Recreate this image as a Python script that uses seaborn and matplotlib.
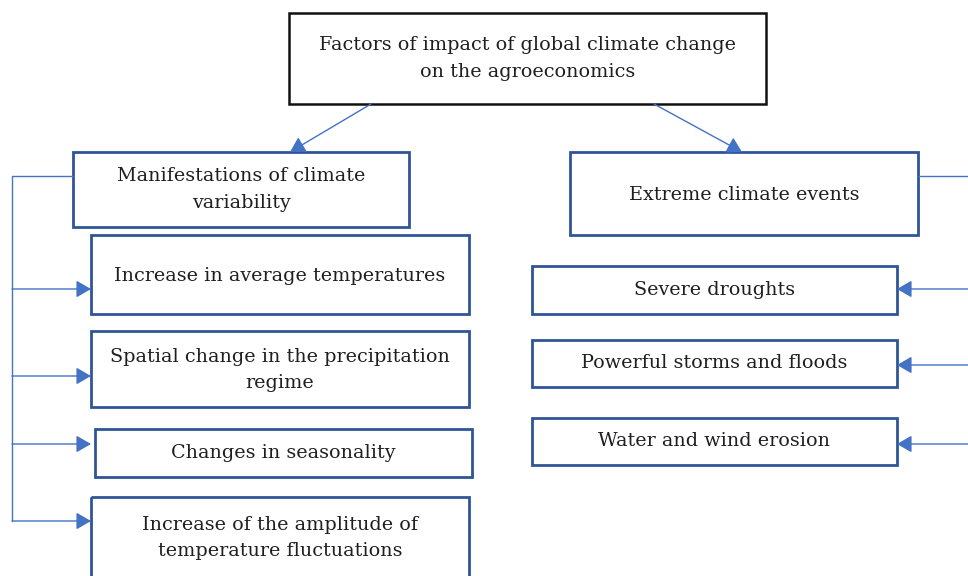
import matplotlib.pyplot as plt
import seaborn as sns
from matplotlib.patches import Rectangle

# labels
top_label = "Factors of impact of global climate change\non the agroeconomics"
left_head = "Manifestations of climate\nvariability"
right_head = "Extreme climate events"
left_items = [
    "Increase in average temperatures",
    "Spatial change in the precipitation\nregime",
    "Changes in seasonality",
    "Increase of the amplitude of\ntemperature fluctuations",
]
right_items = [
    "Severe droughts",
    "Powerful storms and floods",
    "Water and wind erosion",
]

# layout in pixels (x0, y0, x1, y1), origin top-left
TOP_BOX = (289, 13, 766, 104)
LEFT_HEAD_BOX = (73, 152, 409, 227)
RIGHT_HEAD_BOX = (570, 152, 918, 235)
LEFT_BOXES = [(91, 235, 469, 314), (91, 331, 469, 407), (95, 429, 472, 477), (91, 497, 469, 590)]
LEFT_ARROW_Y = [289, 376, 444, 521]
LEFT_TEXT_Y = [276, 370, 453, 538]
RIGHT_BOXES = [(532, 266, 897, 314), (532, 340, 897, 387), (532, 418, 897, 465)]
RIGHT_ARROW_Y = [289, 365, 444]

EDGE = "#2F5597"
LINE = "#4472C4"
TXT = "#1f1f1f"
FS = 13.8

sns.set_theme(style="white")
plt.rcParams["font.family"] = ["DejaVu Serif"]

fig = plt.figure(figsize=(9.68, 5.76), dpi=100)
ax = fig.add_axes([0, 0, 1, 1])
ax.set_xlim(0, 968)
ax.set_ylim(576, 0)
ax.axis("off")


def box(rect, label, color, ty=None, lw=2):
    x0, y0, x1, y1 = rect
    ax.add_patch(Rectangle((x0, y0), x1 - x0, y1 - y0, fill=False,
                           edgecolor=color, linewidth=lw, zorder=2))
    if ty is None:
        ty = (y0 + y1) / 2
    ax.text((x0 + x1) / 2, ty, label, ha="center", va="center",
            fontsize=FS, color=TXT, linespacing=1.6, zorder=3)


def arrow(p0, p1):
    ax.annotate("", xy=p1, xytext=p0,
                arrowprops=dict(arrowstyle="-|>,head_length=0.45,head_width=0.26",
                                color=LINE, lw=1,
                                mutation_scale=20, shrinkA=0, shrinkB=0))


box(TOP_BOX, top_label, "#111111", lw=1.8)
box(LEFT_HEAD_BOX, left_head, EDGE)
box(RIGHT_HEAD_BOX, right_head, EDGE, ty=195)
for rect, label, ty in zip(LEFT_BOXES, left_items, LEFT_TEXT_Y):
    box(rect, label, EDGE, ty=ty)
for rect, label in zip(RIGHT_BOXES, right_items):
    box(rect, label, EDGE)

# from the top box
arrow((371, 104), (290, 152))
arrow((654, 104), (742, 152))

# left bracket
ax.plot([73, 12, 12], [176, 176, LEFT_ARROW_Y[-1]], color=LINE, lw=1)
for y in LEFT_ARROW_Y:
    arrow((12, y), (91, y))

# right bracket, runs off the edge
ax.plot([918, 975], [176, 176], color=LINE, lw=1)
for y in RIGHT_ARROW_Y:
    arrow((975, y), (897, y))

fig.savefig("out.png", dpi=100)
